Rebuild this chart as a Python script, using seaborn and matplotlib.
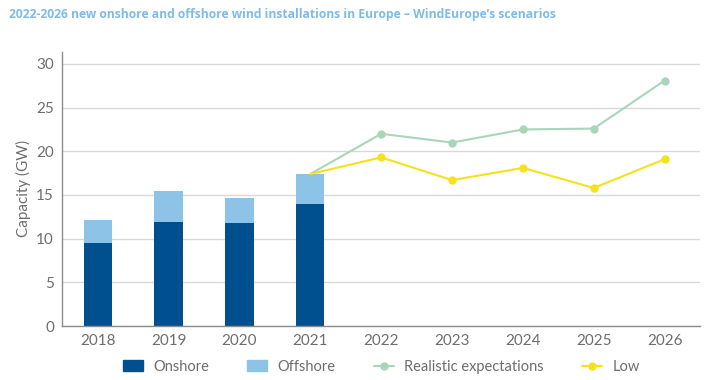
import numpy as np
import pandas as pd
import seaborn as sns
import matplotlib.pyplot as plt
from matplotlib.lines import Line2D
from matplotlib.patches import Patch

### Data
years = ["2018", "2019", "2020", "2021", "2022", "2023", "2024", "2025", "2026"]
bar_years = ["2018", "2019", "2020", "2021"]
onshore = [9.5, 11.9, 11.8, 14.0]
offshore = [2.6, 3.5, 2.9, 3.4]
# scenario lines start at the 2021 total
line_years = ["2021", "2022", "2023", "2024", "2025", "2026"]
realistic = [17.4, 22.0, 21.0, 22.5, 22.6, 28.1]
low = [17.4, 19.3, 16.7, 18.1, 15.8, 19.1]

c_on = "#00508f"
c_off = "#8ec3e8"
c_real = "#a9d6ba"
c_low = "#f3e21c"
c_text = "#6e6e6e"

sns.set_theme(style="white")
plt.rcParams['font.family'] = ['Lato', 'DejaVu Sans']

fig = plt.figure(figsize=(7.24, 3.80), dpi=100)
ax = fig.add_axes([0.086, 0.142, 0.881, 0.722])

bars = pd.DataFrame({"year": bar_years,
                     "total": np.array(onshore) + np.array(offshore),
                     "onshore": onshore})

## stacked bars: total in light blue, onshore drawn over it
sns.barplot(data=bars, x="year", y="total", order=years, color=c_off,
            saturation=1, width=0.4, linewidth=0, ax=ax)
sns.barplot(data=bars, x="year", y="onshore", order=years, color=c_on,
            saturation=1, width=0.4, linewidth=0, ax=ax)

## scenario lines on the category positions
xpos = [years.index(y) for y in line_years]
lines = pd.DataFrame({"x": xpos, "realistic": realistic, "low": low})
sns.lineplot(data=lines, x="x", y="realistic", color=c_real, lw=1.5,
             marker="o", markersize=6, markeredgewidth=0,
             markevery=list(range(1, len(xpos))), ax=ax)
sns.lineplot(data=lines, x="x", y="low", color=c_low, lw=1.5,
             marker="o", markersize=6, markeredgewidth=0,
             markevery=list(range(1, len(xpos))), ax=ax)

ax.set_xlim(-0.5, 8.5)
ax.set_ylim(0, 31.4)
ax.set_yticks(range(0, 31, 5))
ax.set_xticks(range(len(years)))
ax.set_xticklabels(years)
ax.yaxis.grid(True, color="#d9d9d9", lw=1)
ax.set_axisbelow(True)
for s in ["top", "right"]:
    ax.spines[s].set_visible(False)
for s in ["left", "bottom"]:
    ax.spines[s].set_color("#8c8c8c")
    ax.spines[s].set_linewidth(1)
ax.tick_params(colors=c_text, labelsize=11, length=0, pad=6)
ax.set_xlabel("")
ax.set_ylabel("Capacity (GW)", color=c_text, fontsize=11)

handles = [Patch(color=c_on), Patch(color=c_off),
           Line2D([], [], color=c_real, marker="o", markersize=5, lw=1.5),
           Line2D([], [], color=c_low, marker="o", markersize=5, lw=1.5)]
labels = ["Onshore", "Offshore", "Realistic expectations", "Low"]
leg = ax.legend(handles, labels, loc="center", bbox_to_anchor=(0.5, -0.148),
                ncol=4, frameon=False, fontsize=10.5, handlelength=1.4,
                columnspacing=2.6, handletextpad=0.7)
for t in leg.get_texts():
    t.set_color(c_text)

fig.text(0.013, 0.963, "2022-2026 new onshore and offshore wind installations in Europe \u2013 WindEurope\u2019s scenarios",
         color="#7fbbe8", fontsize=8.7, fontweight="bold", va="center", ha="left",
         family=["Open Sans", "DejaVu Sans"])

fig.savefig("out.png", dpi=100)
